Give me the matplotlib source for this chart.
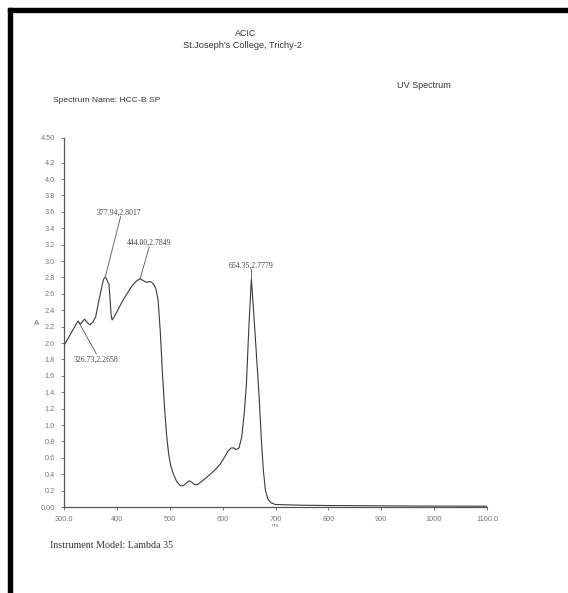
import matplotlib
matplotlib.use("Agg")
import matplotlib.pyplot as plt
import numpy as np

# ---- data ----
wavelength = [300, 308, 316, 322, 326.73, 331, 336, 339, 344, 349, 355, 360, 366, 372, 375,
              377.94, 380, 383, 385, 387, 389, 391, 395, 400, 408, 418, 428, 436, 444.00,
              450, 456, 462, 466, 470, 474, 478, 482, 486, 490, 494, 498, 502, 507, 513,
              520, 526, 531, 537, 542, 548, 554, 562, 575, 585, 594, 603, 610, 616, 621,
              626, 631, 636, 641, 645, 650, 654.35, 659, 664, 669, 673, 677, 681, 686,
              692, 700, 750, 800, 900, 1000, 1100]
absorbance = [1.97, 2.06, 2.15, 2.22, 2.2658, 2.23, 2.27, 2.29, 2.25, 2.22, 2.26, 2.32, 2.52,
              2.70, 2.78, 2.8017, 2.79, 2.74, 2.72, 2.55, 2.35, 2.28, 2.32, 2.38, 2.48, 2.59,
              2.69, 2.75, 2.7849, 2.76, 2.74, 2.75, 2.74, 2.71, 2.66, 2.52, 2.15, 1.65, 1.22,
              0.88, 0.64, 0.50, 0.40, 0.31, 0.26, 0.26, 0.29, 0.32, 0.30, 0.27, 0.28, 0.32,
              0.39, 0.45, 0.51, 0.60, 0.68, 0.72, 0.72, 0.70, 0.72, 0.85, 1.15, 1.50, 2.25,
              2.7779, 2.35, 1.85, 1.35, 0.85, 0.45, 0.20, 0.09, 0.05, 0.03, 0.022, 0.018,
              0.014, 0.011, 0.01]

peak_labels = ["326.73,2.2658", "377.94,2.8017", "444.00,2.7849", "654.35,2.7779"]
peak_x = [326.73, 377.94, 444.00, 654.35]
peak_y = [2.2658, 2.8017, 2.7849, 2.7779]
label_x = [319, 404, 461, 654.35]
label_y = [1.79, 3.59, 3.22, 2.94]
leader_end_x = [361, 407, 461, 654.35]
leader_end_y = [1.87, 3.54, 3.17, 2.90]

xticks = [300, 400, 500, 600, 700, 800, 900, 1000, 1100]
xtick_labels = ["300.0", "400", "500", "600", "700", "800", "900", "1000", "1100.0"]
yticks = [0.0, 0.2, 0.4, 0.6, 0.8, 1.0, 1.2, 1.4, 1.6, 1.8, 2.0, 2.2, 2.4, 2.6, 2.8,
          3.0, 3.2, 3.4, 3.6, 3.8, 4.0, 4.2, 4.5]
ytick_labels = ["0.00", "0.2", "0.4", "0.6", "0.8", "1.0", "1.2", "1.4", "1.6", "1.8",
                "2.0", "2.2", "2.4", "2.6", "2.8", "3.0", "3.2", "3.4", "3.6", "3.8",
                "4.0", "4.2", "4.50"]

W, H = 568, 593
fig = plt.figure(figsize=(W / 100, H / 100), dpi=100)
fig.patch.set_facecolor("white")

def fx(px):
    return px / W

def fy(py):
    return 1 - py / H

# scan border (top and left black bars)
fig.patches.append(plt.Rectangle((fx(8), fy(12)), fx(568) - fx(8), fy(8) - fy(12),
                                 transform=fig.transFigure, color="black", zorder=5))
fig.patches.append(plt.Rectangle((fx(8), 0), fx(12) - fx(8), fy(8),
                                 transform=fig.transFigure, color="black", zorder=5))

ax = fig.add_axes([fx(64), fy(507), fx(487) - fx(64), fy(138) - fy(507)])
ax.plot(wavelength, absorbance, color="#3a3a3a", lw=0.8)
ax.set_xlim(300, 1100)
ax.set_ylim(0, 4.5)
for s in ["top", "right"]:
    ax.spines[s].set_visible(False)
for s in ["left", "bottom"]:
    ax.spines[s].set_color("#555555")
    ax.spines[s].set_linewidth(0.9)
ax.set_xticks(xticks)
ax.set_xticklabels(xtick_labels)
ax.set_yticks(yticks)
ax.set_yticklabels(ytick_labels)
ax.tick_params(axis="both", direction="out", length=2.5, width=0.6, color="#666666",
               labelsize=5.3, labelcolor="#777777", pad=4)
for lab in ax.get_xticklabels() + ax.get_yticklabels():
    lab.set_family("Liberation Sans")

ax.set_ylabel("A", fontsize=5.5, color="#666666", rotation=0,
              family="Liberation Sans")
ax.yaxis.set_label_coords(-0.066, 2.2 / 4.5)
ax.text(700, -0.2, "nm", fontsize=3.8, color="#888888", ha="center", va="top",
        family="Liberation Sans")

label_ha = ["left", "center", "center", "center"]
for lbl, px_, py_, tx, ty, ex, ey, ha in zip(peak_labels, peak_x, peak_y, label_x, label_y,
                                             leader_end_x, leader_end_y, label_ha):
    ax.plot([px_, ex], [py_, ey], color="#555555", lw=0.6)
    ax.text(tx, ty, lbl, fontsize=5.6, color="#444444", ha=ha, va="center",
            family="Liberation Serif")

# header / footer texts
fig.text(fx(246), fy(33), "ACIC", fontsize=6.4, color="#333333", ha="center", va="center",
         family="Liberation Sans")
fig.text(fx(242), fy(45), "St.Joseph's College, Trichy-2", fontsize=6.6, color="#333333",
         ha="center", va="center", family="Liberation Sans")
fig.text(fx(397), fy(86), "UV Spectrum", fontsize=6.5, color="#333333", ha="left",
         va="center", family="Liberation Sans")
fig.text(fx(53), fy(100), "Spectrum Name: HCC-B SP", fontsize=6.1, color="#333333",
         ha="left", va="center", family="Liberation Sans")
fig.text(fx(50), fy(545), "Instrument Model: Lambda 35", fontsize=7.2, color="#333333",
         ha="left", va="center", family="Liberation Serif")

fig.savefig("out.png", dpi=100, facecolor="white")
